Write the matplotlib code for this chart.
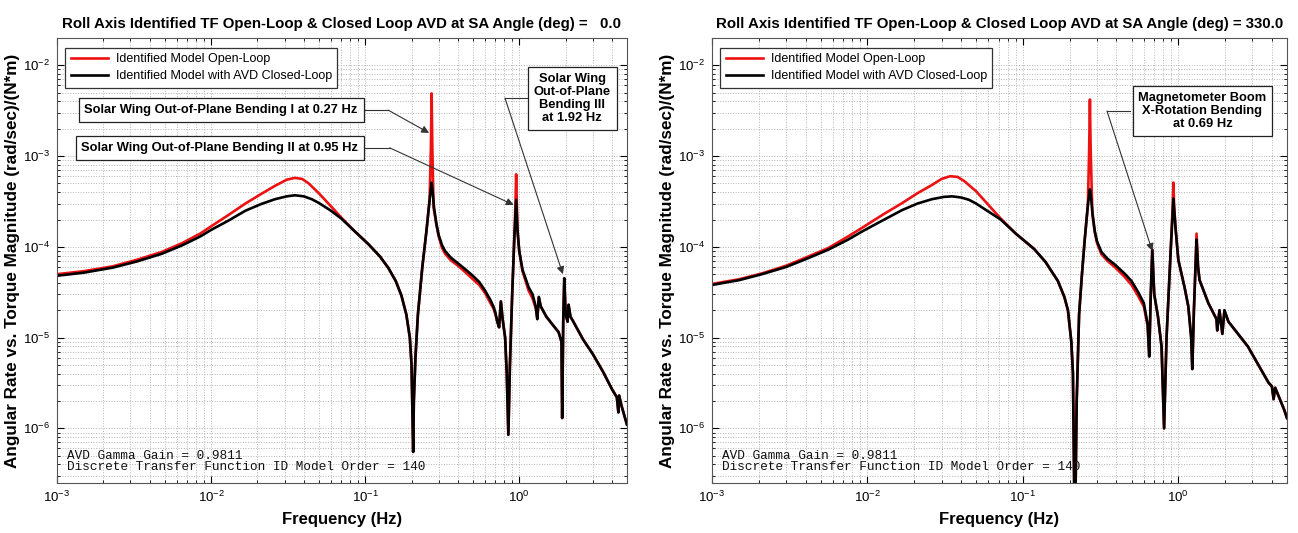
import matplotlib.pyplot as plt

plt.rcParams['font.family'] = ['Liberation Sans', 'DejaVu Sans']
plt.rcParams['mathtext.fontset'] = 'custom'
plt.rcParams['mathtext.rm'] = 'Liberation Sans'

# frequency response (Hz, (rad/sec)/(N*m))
# panel 1: SA angle 0.0 deg
freq_ol_0 = [0.001, 0.0015, 0.0023, 0.0033, 0.0048, 0.0065, 0.0085, 0.0101, 0.013, 0.0167,
             0.021, 0.026, 0.031, 0.035, 0.039, 0.043, 0.05, 0.06, 0.07, 0.085,
             0.105, 0.125, 0.141, 0.158, 0.172, 0.185, 0.195, 0.2, 0.205, 0.207,
             0.212, 0.22, 0.235, 0.25, 0.262, 0.267, 0.27, 0.273, 0.278, 0.29,
             0.3, 0.315, 0.33, 0.36, 0.4, 0.45, 0.5, 0.55, 0.6, 0.65,
             0.68, 0.7, 0.72, 0.74, 0.76, 0.78, 0.81, 0.83, 0.85, 0.87,
             0.9, 0.93, 0.945, 0.955, 0.965, 0.975, 1.0, 1.05, 1.15, 1.22,
             1.28, 1.31, 1.34, 1.38, 1.5, 1.64, 1.8, 1.88, 1.9, 1.93,
             1.96, 2.0, 2.06, 2.09, 2.15, 2.22, 2.6, 3.0, 3.5, 4.0,
             4.3, 4.4, 4.45, 4.6, 5.0]
mag_ol_0 = [5.0e-5, 5.4e-5, 6.1e-5, 7.2e-5, 8.8e-5, 1.1e-4, 1.4e-4, 1.7e-4, 2.25e-4, 3.0e-4,
            3.8e-4, 4.7e-4, 5.5e-4, 5.75e-4, 5.6e-4, 5.0e-4, 3.9e-4, 2.8e-4, 2.1e-4, 1.5e-4,
            1.07e-4, 7.8e-5, 5.9e-5, 4.2e-5, 2.9e-5, 1.8e-5, 1e-5, 5e-6, 5.5e-7, 2e-6,
            6e-6, 1.8e-5, 6e-5, 1.5e-4, 3.3e-4, 1.2e-3, 4.9e-3, 1.2e-3, 2.7e-4, 1.75e-4,
            1.3e-4, 9.8e-5, 8.4e-5, 7.1e-5, 6.2e-5, 5.2e-5, 4.4e-5, 3.8e-5, 3.1e-5, 2.4e-5,
            2.1e-5, 1.8e-5, 1.5e-5, 1.3e-5, 2.5e-5, 1.6e-5, 1.0e-5, 4e-6, 8.5e-7, 5e-6,
            3e-5, 1.3e-4, 3e-4, 6.3e-4, 3e-4, 1.5e-4, 9e-5, 5.4e-5, 3.3e-5, 2.7e-5,
            2.1e-5, 1.6e-5, 2.8e-5, 2.2e-5, 1.7e-5, 1.4e-5, 1.15e-5, 9e-6, 1.3e-6, 1.5e-5,
            4.5e-5, 1.8e-5, 1.5e-5, 2.3e-5, 1.7e-5, 1.55e-5, 9.5e-6, 6.6e-6, 4.2e-6, 2.7e-6,
            2.2e-6, 1.5e-6, 2.3e-6, 1.8e-6, 1.1e-6]

freq_cl_0 = [0.001, 0.0015, 0.0023, 0.0033, 0.0048, 0.0065, 0.0085, 0.0101, 0.013, 0.0167,
             0.021, 0.026, 0.031, 0.035, 0.04, 0.045, 0.05, 0.06, 0.07, 0.085,
             0.105, 0.125, 0.141, 0.158, 0.172, 0.185, 0.195, 0.2, 0.205, 0.207,
             0.212, 0.22, 0.235, 0.25, 0.262, 0.27, 0.275, 0.28, 0.29, 0.3,
             0.315, 0.33, 0.36, 0.4, 0.45, 0.5, 0.55, 0.6, 0.65, 0.68,
             0.7, 0.72, 0.74, 0.76, 0.78, 0.81, 0.83, 0.85, 0.87, 0.9,
             0.93, 0.955, 0.975, 1.0, 1.05, 1.15, 1.22, 1.28, 1.31, 1.34,
             1.38, 1.5, 1.64, 1.8, 1.88, 1.9, 1.93, 1.96, 2.0, 2.06,
             2.09, 2.15, 2.22, 2.6, 3.0, 3.5, 4.0, 4.3, 4.4, 4.45,
             4.6, 5.0]
mag_cl_0 = [4.8e-5, 5.2e-5, 5.9e-5, 6.9e-5, 8.4e-5, 1.04e-4, 1.3e-4, 1.55e-4, 1.95e-4, 2.5e-4,
            2.95e-4, 3.35e-4, 3.6e-4, 3.7e-4, 3.6e-4, 3.35e-4, 3.05e-4, 2.5e-4, 2.05e-4, 1.5e-4,
            1.07e-4, 7.8e-5, 5.9e-5, 4.2e-5, 2.9e-5, 1.8e-5, 1e-5, 5e-6, 5.5e-7, 2e-6,
            6e-6, 1.8e-5, 6e-5, 1.5e-4, 3.3e-4, 5.1e-4, 3.8e-4, 2.7e-4, 1.8e-4, 1.35e-4,
            1.05e-4, 9e-5, 7.6e-5, 6.6e-5, 5.6e-5, 4.8e-5, 4.1e-5, 3.3e-5, 2.6e-5, 2.2e-5,
            1.9e-5, 1.5e-5, 1.3e-5, 2.5e-5, 1.6e-5, 1.0e-5, 4e-6, 8.5e-7, 5e-6, 3e-5,
            1.3e-4, 3.3e-4, 1.5e-4, 9e-5, 5.6e-5, 3.6e-5, 3e-5, 2.2e-5, 1.6e-5, 2.8e-5,
            2.2e-5, 1.7e-5, 1.4e-5, 1.15e-5, 9e-6, 1.3e-6, 1.5e-5, 4.5e-5, 1.8e-5, 1.5e-5,
            2.3e-5, 1.7e-5, 1.55e-5, 9.5e-6, 6.6e-6, 4.2e-6, 2.7e-6, 2.2e-6, 1.5e-6, 2.3e-6,
            1.8e-6, 1.1e-6]

# panel 2: SA angle 330.0 deg
freq_ol_330 = [0.001, 0.0015, 0.0021, 0.003, 0.004, 0.0056, 0.0075, 0.0094, 0.0125, 0.0168,
               0.021, 0.026, 0.03, 0.034, 0.038, 0.042, 0.05, 0.06, 0.072, 0.09,
               0.118, 0.14, 0.168, 0.185, 0.195, 0.205, 0.21, 0.216, 0.222, 0.23,
               0.24, 0.25, 0.262, 0.267, 0.27, 0.273, 0.28, 0.29, 0.3, 0.32,
               0.35, 0.39, 0.45, 0.5, 0.55, 0.6, 0.635, 0.65, 0.665, 0.68,
               0.7, 0.74, 0.78, 0.81, 0.84, 0.89, 0.92, 0.93, 0.94, 0.96,
               1.0, 1.1, 1.16, 1.21, 1.23, 1.26, 1.31, 1.34, 1.37, 1.56,
               1.76, 1.78, 1.84, 1.92, 1.98, 2.1, 2.8, 3.8, 4.0, 4.1,
               4.2, 4.8, 5.0]
mag_ol_330 = [3.9e-5, 4.4e-5, 5.1e-5, 6.2e-5, 7.6e-5, 9.7e-5, 1.3e-4, 1.65e-4, 2.25e-4, 3.05e-4,
              3.9e-4, 4.8e-4, 5.6e-4, 6e-4, 5.9e-4, 5.3e-4, 4.1e-4, 2.9e-4, 2.05e-4, 1.4e-4,
              9.5e-5, 6.8e-5, 4.2e-5, 2.8e-5, 2e-5, 9e-6, 4e-6, 5e-8, 2e-6, 1.8e-5,
              5e-5, 1.2e-4, 2.9e-4, 1.2e-3, 4.2e-3, 1.2e-3, 2.3e-4, 1.45e-4, 1.1e-4, 8.3e-5,
              7e-5, 6e-5, 4.7e-5, 3.8e-5, 2.9e-5, 2.2e-5, 1.35e-5, 6.2e-6, 3e-5, 9.3e-5,
              3e-5, 1.7e-5, 8e-6, 1e-6, 1e-5, 8e-5, 2.8e-4, 5.1e-4, 2.8e-4, 1.6e-4,
              7.2e-5, 3.5e-5, 2.2e-5, 1e-5, 4.5e-6, 2e-5, 1.4e-4, 6e-5, 4.3e-5, 2.4e-5,
              1.6e-5, 1.2e-5, 2e-5, 1.1e-5, 2e-5, 1.5e-5, 8e-6, 3.2e-6, 2.9e-6, 2.1e-6,
              2.8e-6, 1.6e-6, 1.3e-6]

freq_cl_330 = [0.001, 0.0015, 0.0021, 0.003, 0.004, 0.0056, 0.0075, 0.0094, 0.0125, 0.0168,
               0.021, 0.026, 0.031, 0.035, 0.04, 0.045, 0.05, 0.06, 0.072, 0.09,
               0.118, 0.14, 0.168, 0.185, 0.195, 0.205, 0.21, 0.216, 0.222, 0.23,
               0.24, 0.25, 0.262, 0.27, 0.275, 0.28, 0.29, 0.3, 0.32, 0.35,
               0.39, 0.45, 0.5, 0.55, 0.6, 0.635, 0.65, 0.665, 0.68, 0.7,
               0.74, 0.78, 0.81, 0.84, 0.89, 0.93, 0.96, 1.0, 1.1, 1.16,
               1.21, 1.23, 1.26, 1.31, 1.34, 1.37, 1.56, 1.76, 1.78, 1.84,
               1.92, 1.98, 2.1, 2.8, 3.8, 4.0, 4.1, 4.2, 4.8, 5.0]
mag_cl_330 = [3.8e-5, 4.3e-5, 5e-5, 6e-5, 7.3e-5, 9.3e-5, 1.2e-4, 1.5e-4, 1.95e-4, 2.55e-4,
              3e-4, 3.35e-4, 3.55e-4, 3.6e-4, 3.5e-4, 3.3e-4, 3.0e-4, 2.45e-4, 2.0e-4, 1.4e-4,
              9.5e-5, 6.8e-5, 4.2e-5, 2.8e-5, 2e-5, 9e-6, 4e-6, 5e-8, 2e-6, 1.8e-5,
              5e-5, 1.2e-4, 2.9e-4, 4.3e-4, 3.4e-4, 2.4e-4, 1.5e-4, 1.15e-4, 8.8e-5, 7.4e-5,
              6.4e-5, 5.1e-5, 4.2e-5, 3.2e-5, 2.4e-5, 1.4e-5, 6.2e-6, 3e-5, 9.3e-5, 3e-5,
              1.7e-5, 8e-6, 1e-6, 1e-5, 8e-5, 3.4e-4, 1.6e-4, 7.2e-5, 3.5e-5, 2.2e-5,
              1e-5, 4.5e-6, 2e-5, 1.2e-4, 6e-5, 4.3e-5, 2.4e-5, 1.6e-5, 1.2e-5, 2e-5,
              1.1e-5, 2e-5, 1.5e-5, 8e-6, 3.2e-6, 2.9e-6, 2.1e-6, 2.8e-6, 1.6e-6, 1.3e-6]

sa_angles = ['  0.0', '330.0']
legend_labels = ['Identified Model Open-Loop', 'Identified Model with AVD Closed-Loop']
info_text = 'AVD Gamma Gain = 0.9811\nDiscrete Transfer Function ID Model Order = 140'

fig = plt.figure(figsize=(12.98, 5.33), dpi=100)
ax0 = fig.add_axes([0.0439, 0.0938, 0.4391, 0.8349])
ax1 = fig.add_axes([0.5485, 0.0938, 0.4430, 0.8349])

box_style = dict(boxstyle='square,pad=0.45', fc='white', ec='#222222', lw=0.9)
lead_style = dict(color='#333333', lw=0.8)


def draw_panel(ax, f_ol, m_ol, f_cl, m_cl, angle):
    ax.plot(f_ol, m_ol, color='#ee1111', lw=1.9, label=legend_labels[0])
    ax.plot(f_cl, m_cl, color='black', lw=1.9, label=legend_labels[1])
    ax.set_xscale('log')
    ax.set_yscale('log')
    ax.set_xlim(1e-3, 5.0)
    ax.set_ylim(2.5e-7, 2e-2)
    ax.grid(True, which='both', linestyle=':', color='#b4b4b4', lw=0.7)
    ax.tick_params(which='both', direction='in', top=True, right=True, labelsize=9.5)
    ax.tick_params(which='major', length=5, pad=5)
    ax.tick_params(which='minor', length=2.5)
    for s in ax.spines.values():
        s.set_color('#555555')
    ax.set_title('Roll Axis Identified TF Open-Loop & Closed Loop AVD at SA Angle (deg) = ' + angle,
                 fontsize=10.8, fontweight='bold', pad=7)
    ax.set_xlabel('Frequency (Hz)', fontsize=12, fontweight='bold', labelpad=5)
    ax.set_ylabel('Angular Rate vs. Torque Magnitude (rad/sec)/(N*m)', fontsize=12.3,
                  fontweight='bold', labelpad=2)
    leg = ax.legend(loc='upper left', bbox_to_anchor=(0.003, 0.992), fontsize=9.0,
                    fancybox=False, edgecolor='#333333', framealpha=1, handlelength=3.0,
                    labelspacing=0.4, borderpad=0.45, handletextpad=0.6)
    leg.get_frame().set_linewidth(0.9)
    ax.text(0.018, 0.022, info_text, transform=ax.transAxes, family='Liberation Mono',
            fontsize=9.2, linespacing=0.95, va='bottom', ha='left', color='#111111')


draw_panel(ax0, freq_ol_0, mag_ol_0, freq_cl_0, mag_cl_0, sa_angles[0])
draw_panel(ax1, freq_ol_330, mag_ol_330, freq_cl_330, mag_cl_330, sa_angles[1])

# callouts on the left panel
ax0.text(0.288, 0.838, 'Solar Wing Out-of-Plane Bending I at 0.27 Hz', transform=ax0.transAxes,
         ha='center', va='center', fontsize=9.3, fontweight='bold', bbox=box_style)
ax0.plot([0.540, 0.581], [0.838, 0.838], transform=ax0.transAxes, **lead_style)
ax0.annotate('', xy=(0.26, 1.8e-3), xycoords='data', xytext=(0.581, 0.838),
             textcoords='axes fraction',
             arrowprops=dict(arrowstyle='-|>', mutation_scale=11, shrinkA=0, shrinkB=0, **lead_style))

ax0.text(0.286, 0.753, 'Solar Wing Out-of-Plane Bending II at 0.95 Hz', transform=ax0.transAxes,
         ha='center', va='center', fontsize=9.3, fontweight='bold', bbox=box_style)
ax0.plot([0.536, 0.584], [0.753, 0.753], transform=ax0.transAxes, **lead_style)
ax0.annotate('', xy=(0.92, 2.9e-4), xycoords='data', xytext=(0.584, 0.753),
             textcoords='axes fraction',
             arrowprops=dict(arrowstyle='-|>', mutation_scale=11, shrinkA=0, shrinkB=0, **lead_style))

ax0.text(0.904, 0.864, 'Solar Wing\nOut-of-Plane\nBending III\nat 1.92 Hz', transform=ax0.transAxes,
         ha='center', va='center', fontsize=9.3, fontweight='bold', linespacing=1.1,
         bbox=box_style)
ax0.plot([0.825, 0.786], [0.865, 0.865], transform=ax0.transAxes, **lead_style)
ax0.annotate('', xy=(1.92, 5e-5), xycoords='data', xytext=(0.786, 0.865),
             textcoords='axes fraction',
             arrowprops=dict(arrowstyle='-|>', mutation_scale=11, shrinkA=0, shrinkB=0, **lead_style))

# callout on the right panel
ax1.text(0.853, 0.836, 'Magnetometer Boom\nX-Rotation Bending\nat 0.69 Hz', transform=ax1.transAxes,
         ha='center', va='center', fontsize=9.3, fontweight='bold', linespacing=1.1,
         bbox=box_style)
ax1.plot([0.727, 0.687], [0.836, 0.836], transform=ax1.transAxes, **lead_style)
ax1.annotate('', xy=(0.68, 9e-5), xycoords='data', xytext=(0.687, 0.836),
             textcoords='axes fraction',
             arrowprops=dict(arrowstyle='-|>', mutation_scale=11, shrinkA=0, shrinkB=0, **lead_style))

fig.savefig('out.png', dpi=100)
